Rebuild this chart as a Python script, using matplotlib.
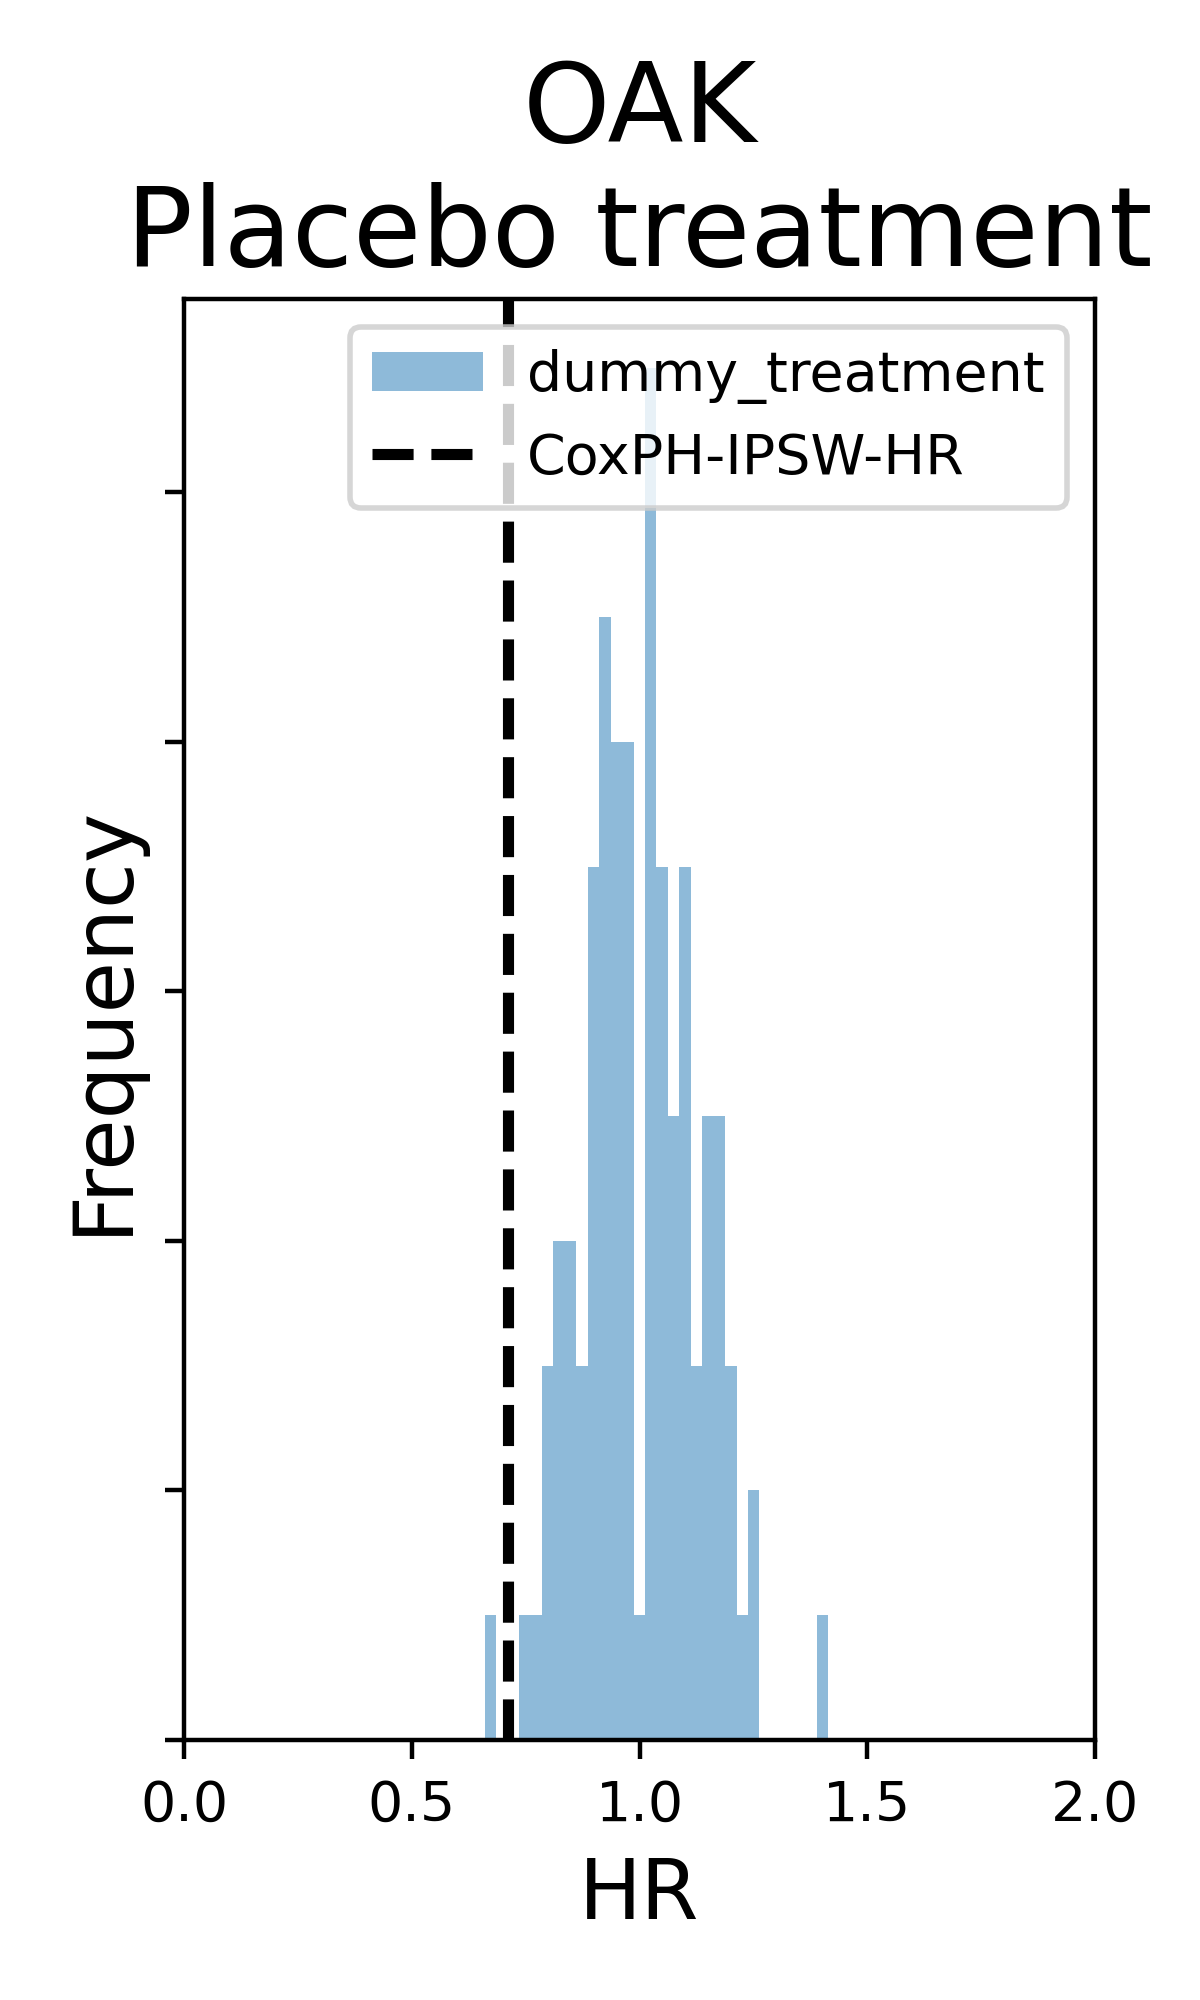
import numpy as np
import matplotlib
matplotlib.use("Agg")
import matplotlib.pyplot as plt

# Histogram data (30 bins between min and max HR of the simulated dummy treatment)
hr_min = 0.660
hr_max = 1.414
n_bins = 30
bin_counts = [1, 0, 0, 1, 1, 3, 4, 4, 3, 7,
              9, 8, 8, 1, 11, 7, 5, 7, 3, 5,
              5, 3, 1, 2, 0, 0, 0, 0, 0, 1]
coxph_ipsw_hr = 0.71

title_text = "OAK\nPlacebo treatment"
hist_label = "dummy_treatment"
line_label = "CoxPH-IPSW-HR"
x_label = "HR"
y_label = "Frequency"
x_ticks = [0.0, 0.5, 1.0, 1.5, 2.0]

edges = np.linspace(hr_min, hr_max, n_bins + 1)
centers = 0.5 * (edges[:-1] + edges[1:])

fig = plt.figure(figsize=(3, 5), dpi=400)
ax = fig.add_axes([0.1535, 0.13, 0.759, 0.7205])

ax.hist(centers, bins=edges, weights=bin_counts, alpha=0.5, label=hist_label)
ax.axvline(coxph_ipsw_hr, color="black", linestyle="--", linewidth=2, label=line_label)

ax.set_xlim(0, 2)
ax.set_xticks(x_ticks)
ax.tick_params(axis="x", labelsize=10)
ax.set_yticks([0, 2, 4, 6, 8, 10])
ax.tick_params(axis="y", labelleft=False)
ax.set_xlabel(x_label, fontsize=15)
ax.set_ylabel(y_label, fontsize=15)
ax.set_title(title_text, fontsize=20)
ax.legend(loc="upper right", fontsize=10)

fig.savefig("out.png", dpi=400)
